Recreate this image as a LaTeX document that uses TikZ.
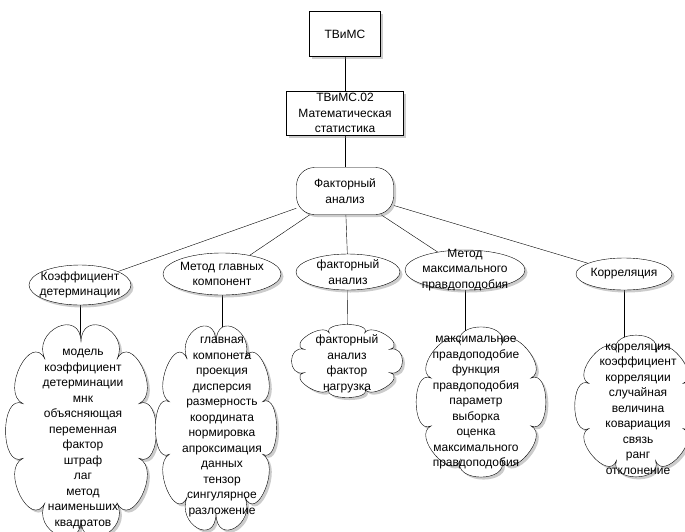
\documentclass[tikz,border=0pt]{standalone}
\usepackage{fontspec}
\setmainfont{Liberation Sans}
\usetikzlibrary{shapes.geometric,shadows,backgrounds}
% 云形轮廓: #1 中心, #2 x半径, #3 y半径, #4 云朵数, #5 起始角
\newcommand{\cloudoutline}[5]{%
    \pgfmathsetmacro\cloudra{1.4*#2}%
    \pgfmathsetmacro\cloudrb{1.4*#3}%
    \draw[shade, shift={(#1)}] (#5:#2pt and #3pt)
        \foreach \i [evaluate=\i as \ta using #5+(\i-1)*360/#4, evaluate=\i as \tb using #5+\i*360/#4] in {1,...,#4} {
            .. controls (\ta:\cloudra pt and \cloudrb pt) and (\tb:\cloudra pt and \cloudrb pt) .. (\tb:#2pt and #3pt)
        } -- cycle;}
\begin{document}
\begin{tikzpicture}[x=1pt,y=-1pt, % 以像素为单位
    every node/.style={font=\fontsize{12}{15.5}\selectfont, align=center},
    shade/.style={draw, fill=white, drop shadow={shadow xshift=2.5pt, shadow yshift=-2.5pt, opacity=0.4}},
    boxnode/.style={shade, rectangle, inner sep=2pt},
    ovalnode/.style={shade, ellipse, inner sep=-20pt},
    cloudtext/.style={inner sep=0pt}]
    \useasboundingbox (0,0) rectangle (685,531); % 画布范围
    % 顶部方框
    \node[boxnode, minimum width=71pt, minimum height=45pt] (tvims) at (345,34) {ТВиМС};
    \node[boxnode, minimum width=117pt, minimum height=44pt] (tvims02) at (345,113) {ТВиМС.02\\Математическая\\статистика};
    % 圆角框
    \node[boxnode, rounded corners=18pt, minimum width=97pt, minimum height=47pt] (fa) at (345,191) {Факторный\\анализ};
    % 椭圆
    \node[ovalnode, minimum width=102pt, minimum height=40pt] (koef) at (80,285) {Коэффициент\\детерминации};
    \node[ovalnode, minimum width=118pt, minimum height=42pt] (mgk) at (222,274) {Метод главных\\компонент};
    \node[ovalnode, minimum width=104pt, minimum height=36pt] (fan) at (348,272) {факторный\\анализ};
    \node[ovalnode, minimum width=120pt, minimum height=40pt] (mmp) at (465,270) {Метод\\максимального\\правдоподобия};
    \node[ovalnode, minimum width=96pt, minimum height=32pt] (korr) at (624,274) {Корреляция};
    % 云形框
    \coordinate (c1) at (81,431);
    \coordinate (c2) at (216,428);
    \coordinate (c3) at (347,361);
    \coordinate (c4) at (481,402);
    \coordinate (c5) at (636,406);
    \cloudoutline{c1}{61}{88.5}{10}{-18}
    \cloudoutline{c2}{49}{85}{10}{-18}
    \cloudoutline{c3}{46.2}{30.4}{8}{-22.5}
    \cloudoutline{c4}{54}{62.5}{8}{-22.5}
    \cloudoutline{c5}{51}{59}{8}{-22.5}
    \node[cloudtext] (cloudkoef) at (83,439) {модель\\коэффициент\\детерминации\\мнк\\объясняющая\\переменная\\фактор\\штраф\\лаг\\метод\\наименьших\\квадратов};
    \node[cloudtext] (cloudmgk) at (222,427) {главная\\компонета\\проекция\\дисперсия\\размерность\\координата\\нормировка\\апроксимация\\данных\\тензор\\сингулярное\\разложение};
    \node[cloudtext] (cloudfan) at (347,364) {факторный\\анализ\\фактор\\нагрузка};
    \node[cloudtext] (cloudmmp) at (476,403) {максимальное\\правдоподобие\\функция\\правдоподобия\\параметр\\выборка\\оценка\\максимального\\правдоподобия};
    \node[cloudtext] (cloudkorr) at (638,409) {корреляция\\коэффициент\\корреляции\\случайная\\величина\\ковариация\\связь\\ранг\\отклонение};
    % 连线
    \begin{scope}[on background layer]
        \draw (tvims) -- (tvims02);
        \draw (tvims02) -- (fa);
        \foreach \t in {koef,mgk,fan,mmp,korr}
            \draw (fa) -- (\t);
        \draw (koef) -- (koef |- cloudkoef.north);
        \draw (mgk) -- (mgk |- cloudmgk.north);
        \draw (fan) -- (cloudfan);
        \draw (mmp) -- (mmp |- cloudmmp.north);
        \draw (korr) -- (korr |- cloudkorr.north);
    \end{scope}
\end{tikzpicture}
\end{document}
